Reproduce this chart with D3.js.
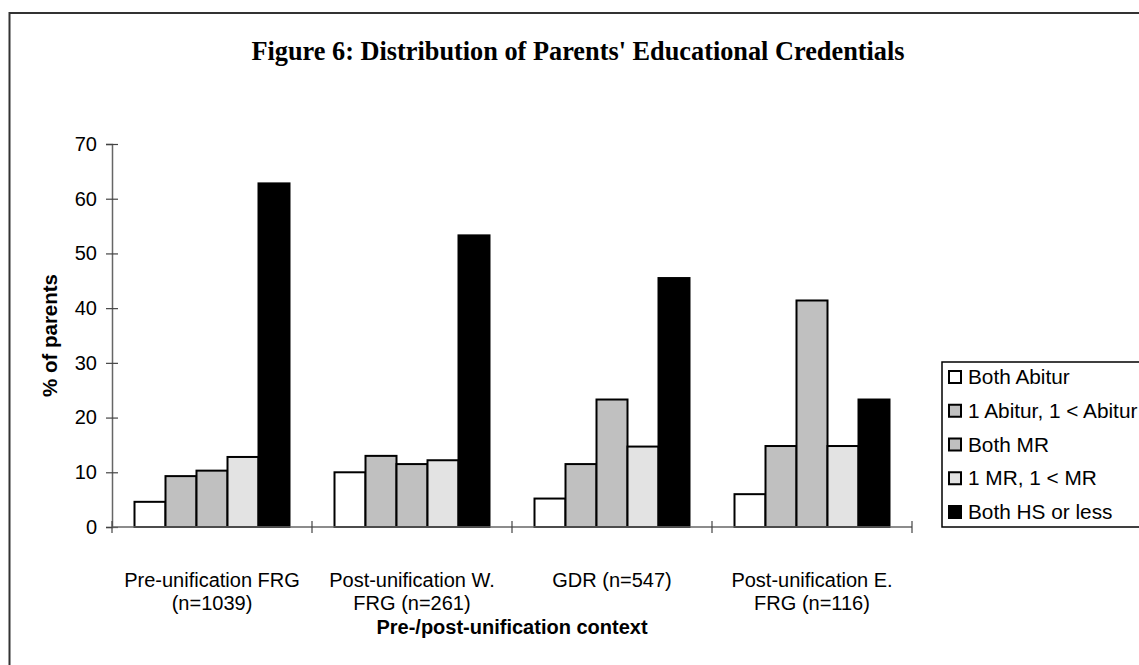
<!DOCTYPE html>
<html>
<head>
<meta charset="utf-8">
<script src="https://cdn.jsdelivr.net/npm/d3@7"></script>
<style>
  html, body { margin: 0; padding: 0; background: #fff; }
  svg { display: block; }
</style>
</head>
<body>
<svg id="chart" width="1139" height="665"></svg>
<script>
const title = "Figure 6: Distribution of Parents' Educational Credentials";
const categories = ["Pre-unification FRG (n=1039)", "Post-unification W. FRG (n=261)", "GDR (n=547)", "Post-unification E. FRG (n=116)"];
const categoryLines = [["Pre-unification FRG", "(n=1039)"], ["Post-unification W.", "FRG (n=261)"], ["GDR (n=547)"], ["Post-unification E.", "FRG (n=116)"]];
const series = ["Both Abitur", "1 Abitur, 1 < Abitur", "Both MR", "1 MR, 1 < MR", "Both HS or less"];
const bothAbitur = [4.6, 10.0, 5.2, 6.0];
const oneAbitur = [9.3, 13.0, 11.5, 14.8];
const bothMR = [10.3, 11.5, 23.3, 41.4];
const oneMR = [12.8, 12.2, 14.7, 14.8];
const bothHS = [62.8, 53.3, 45.5, 23.3];
const yTicks = [0, 10, 20, 30, 40, 50, 60, 70];
const colors = ["#ffffff", "#c0c0c0", "#c0c0c0", "#e3e3e3", "#000000"];
const yTitle = "% of parents";
const xTitle = "Pre-/post-unification context";

const values = [bothAbitur, oneAbitur, bothMR, oneMR, bothHS];
const data = categories.map((c, i) => ({ cat: c, vals: series.map((s, j) => ({ s, v: values[j][i], j })) }));

const svg = d3.select("#chart");
const font = "'Liberation Sans', Arial, sans-serif";

// outer frame
svg.append("rect").attr("x", 9.5).attr("y", 13).attr("width", 1200).attr("height", 700)
  .attr("fill", "none").attr("stroke", "#333").attr("stroke-width", 2);

// title
svg.append("text").attr("x", 578).attr("y", 60).attr("text-anchor", "middle")
  .attr("font-family", "'Liberation Serif', 'Times New Roman', serif").attr("font-weight", "bold")
  .attr("font-size", 26.3).text(title);

const plotLeft = 112, plotRight = 912, plotTop = 144, plotBottom = 527;
const x0 = d3.scaleBand().domain(categories).range([plotLeft, plotRight]).padding(0);
const x1 = d3.scaleBand().domain(series).range([22.5, x0.bandwidth() - 22.5]).padding(0);
const y = d3.scaleLinear().domain([0, 70]).range([plotBottom, plotTop]);

// bars
const g = svg.append("g");
g.selectAll("g.grp").data(data).join("g").attr("class", "grp")
  .attr("transform", d => `translate(${x0(d.cat)},0)`)
  .selectAll("rect").data(d => d.vals).join("rect")
  .attr("x", d => x1(d.s)).attr("width", x1.bandwidth())
  .attr("y", d => y(d.v)).attr("height", d => y(0) - y(d.v))
  .attr("fill", d => colors[d.j]).attr("stroke", "#000").attr("stroke-width", 2);

// y axis
const yAxis = svg.append("g").attr("transform", `translate(${plotLeft},0)`)
  .call(d3.axisLeft(y).tickValues(yTicks).tickSize(6).tickPadding(9).tickFormat(d3.format("d")));
yAxis.select(".domain").attr("stroke", "#666").attr("stroke-width", 1.5);
yAxis.selectAll(".tick line").attr("x1", -6).attr("x2", 6).attr("stroke", "#444").attr("stroke-width", 1.2);
yAxis.selectAll(".tick text").attr("font-family", font).attr("font-size", 20).attr("fill", "#000");

// x axis
const bounds = categories.map(c => x0(c)).concat([x0.range()[1]]);
const xAxis = svg.append("g");
xAxis.append("line").attr("x1", plotLeft).attr("x2", plotRight).attr("y1", y(0)).attr("y2", y(0))
  .attr("stroke", "#666").attr("stroke-width", 1.5);
xAxis.selectAll("line.tk").data(bounds).join("line").attr("class", "tk")
  .attr("x1", d => d).attr("x2", d => d).attr("y1", y(0) - 6).attr("y2", y(0) + 6)
  .attr("stroke", "#444").attr("stroke-width", 1.2);
xAxis.selectAll("text.cat").data(categories).join("text").attr("class", "cat")
  .attr("x", d => x0(d) + x0.bandwidth() / 2).attr("y", 587)
  .attr("text-anchor", "middle").attr("font-family", font).attr("font-size", 20)
  .each(function(d, i) {
    const t = d3.select(this);
    categoryLines[i].forEach((ln, k) => {
      t.append("tspan").attr("x", x0(d) + x0.bandwidth() / 2).attr("dy", k === 0 ? 0 : 23).text(ln);
    });
  });

// axis titles
svg.append("text").attr("x", (plotLeft + plotRight) / 2).attr("y", 634).attr("text-anchor", "middle")
  .attr("font-family", font).attr("font-weight", "bold").attr("font-size", 20).text(xTitle);
svg.append("text").attr("transform", `translate(57,${(plotTop + plotBottom) / 2}) rotate(-90)`)
  .attr("text-anchor", "middle").attr("font-family", font).attr("font-weight", "bold")
  .attr("font-size", 20.5).text(yTitle);

// legend
const legY = d3.scalePoint().domain(series).range([377, 512]);
const leg = svg.append("g");
leg.append("rect").attr("x", 942).attr("y", 362).attr("width", 300).attr("height", 165)
  .attr("fill", "#fff").attr("stroke", "#000").attr("stroke-width", 1.5);
const items = leg.selectAll("g.it").data(series).join("g").attr("class", "it")
  .attr("transform", d => `translate(0,${legY(d)})`);
items.append("rect").attr("x", 949).attr("y", -6).attr("width", 12).attr("height", 12)
  .attr("fill", (d, i) => colors[i]).attr("stroke", "#000").attr("stroke-width", 2);
items.append("text").attr("x", 968).attr("y", 7).attr("font-family", font).attr("font-size", 20.8)
  .text(d => d);
</script>
</body>
</html>
